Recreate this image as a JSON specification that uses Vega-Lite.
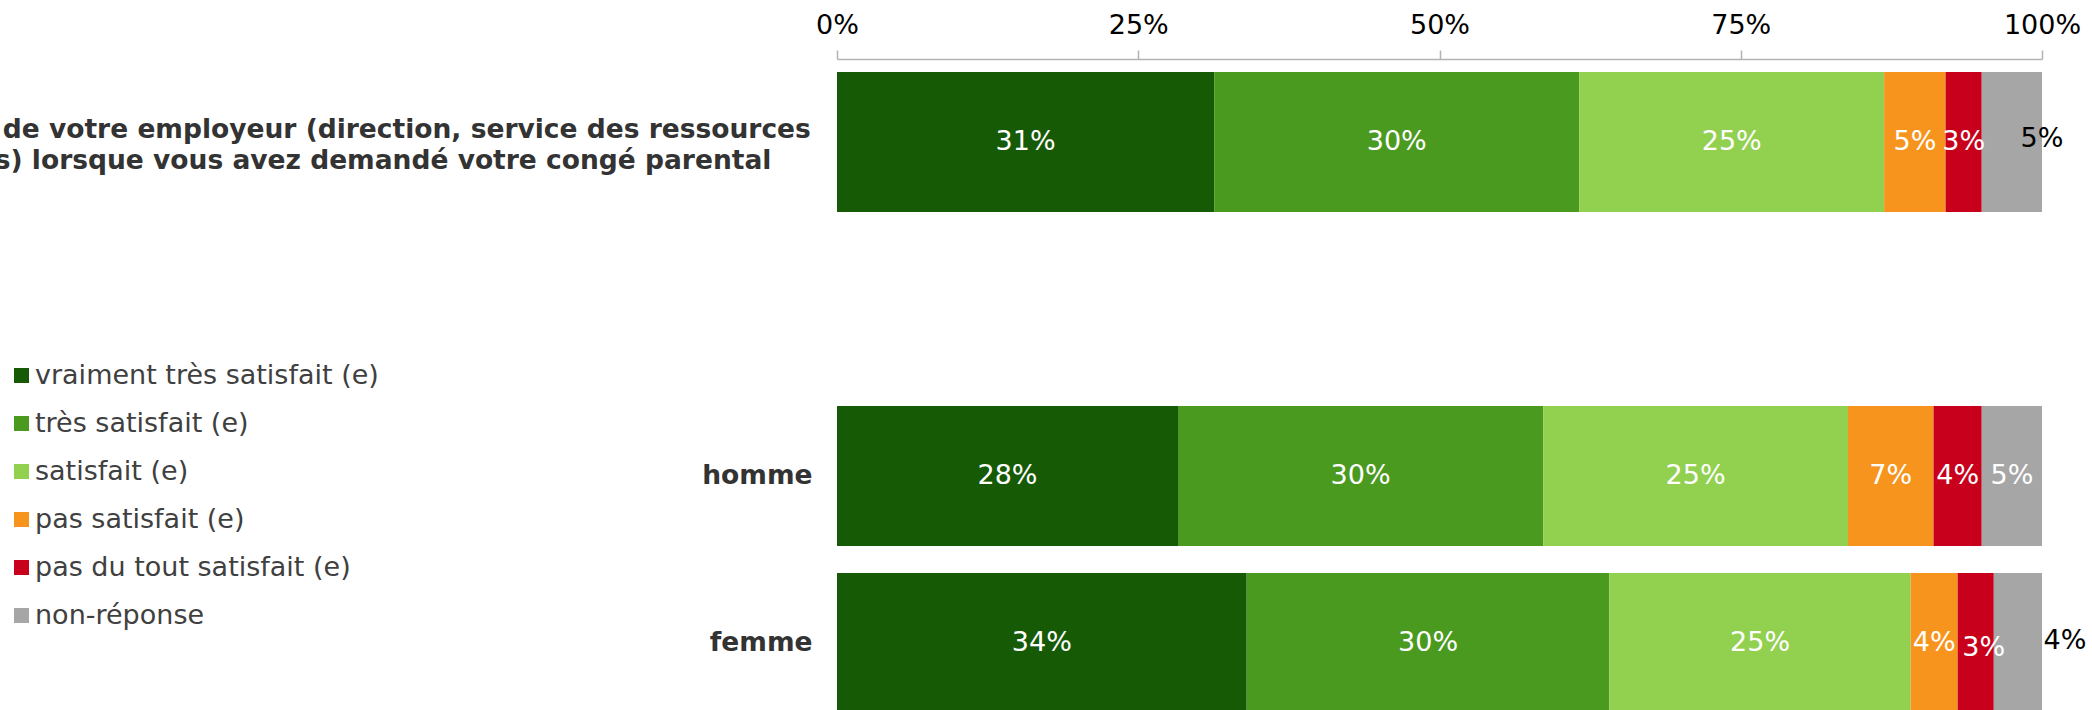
{
  "$schema": "https://vega.github.io/schema/vega-lite/v6.json",
  "width": 1205,
  "height": 651,
  "autosize": {"type": "none"},
  "padding": {"left": 837, "top": 59, "right": 50, "bottom": 0},
  "background": "white",
  "config": {"view": {"stroke": null}, "font": "DejaVu Sans"},
  "data": {
    "values": [
      {"groupe": "La réaction de votre employeur (direction, service des ressources humaines) lorsque vous avez demandé votre congé parental", "reponse": "vraiment très satisfait (e)", "ordre": 1, "pct": 31.3},
      {"groupe": "La réaction de votre employeur (direction, service des ressources humaines) lorsque vous avez demandé votre congé parental", "reponse": "très satisfait (e)", "ordre": 2, "pct": 30.3},
      {"groupe": "La réaction de votre employeur (direction, service des ressources humaines) lorsque vous avez demandé votre congé parental", "reponse": "satisfait (e)", "ordre": 3, "pct": 25.3},
      {"groupe": "La réaction de votre employeur (direction, service des ressources humaines) lorsque vous avez demandé votre congé parental", "reponse": "pas satisfait (e)", "ordre": 4, "pct": 5.1},
      {"groupe": "La réaction de votre employeur (direction, service des ressources humaines) lorsque vous avez demandé votre congé parental", "reponse": "pas du tout satisfait (e)", "ordre": 5, "pct": 3.0},
      {"groupe": "La réaction de votre employeur (direction, service des ressources humaines) lorsque vous avez demandé votre congé parental", "reponse": "non-réponse", "ordre": 6, "pct": 5.0},
      {"groupe": "homme", "reponse": "vraiment très satisfait (e)", "ordre": 1, "pct": 28.3},
      {"groupe": "homme", "reponse": "très satisfait (e)", "ordre": 2, "pct": 30.3},
      {"groupe": "homme", "reponse": "satisfait (e)", "ordre": 3, "pct": 25.3},
      {"groupe": "homme", "reponse": "pas satisfait (e)", "ordre": 4, "pct": 7.1},
      {"groupe": "homme", "reponse": "pas du tout satisfait (e)", "ordre": 5, "pct": 4.0},
      {"groupe": "homme", "reponse": "non-réponse", "ordre": 6, "pct": 5.0},
      {"groupe": "femme", "reponse": "vraiment très satisfait (e)", "ordre": 1, "pct": 34.0},
      {"groupe": "femme", "reponse": "très satisfait (e)", "ordre": 2, "pct": 30.1},
      {"groupe": "femme", "reponse": "satisfait (e)", "ordre": 3, "pct": 25.0},
      {"groupe": "femme", "reponse": "pas satisfait (e)", "ordre": 4, "pct": 3.9},
      {"groupe": "femme", "reponse": "pas du tout satisfait (e)", "ordre": 5, "pct": 3.0},
      {"groupe": "femme", "reponse": "non-réponse", "ordre": 6, "pct": 4.0}
    ]
  },
  "transform": [
    {"stack": "pct", "groupby": ["groupe"], "sort": [{"field": "ordre", "order": "ascending"}], "as": ["x0", "x1"]},
    {"calculate": "(datum.x0 + datum.x1) / 2", "as": "xmid"},
    {"calculate": "format(datum.pct, '.0f') + '%'", "as": "etiquette"}
  ],
  "encoding": {
    "y": {
      "field": "groupe",
      "type": "nominal",
      "title": null,
      "scale": {
        "domain": ["La réaction de votre employeur (direction, service des ressources humaines) lorsque vous avez demandé votre congé parental", " ", "homme", "femme"],
        "range": [0, 667],
        "paddingInner": 0.1617,
        "paddingOuter": 0.0778
      },
      "axis": {
        "ticks": false,
        "tickSize": 0,
        "domain": false,
        "labelFont": "DejaVu Sans",
        "labelFontSize": 26.5,
        "labelFontWeight": "bold",
        "labelColor": "#333333",
        "labelLimit": 5000,
        "labelLineHeight": 31,
        "labelBaseline": "middle",
        "labelExpr": "indexof(datum.value, ' humaines') > 0 ? [substring(datum.value, 0, indexof(datum.value, ' humaines')), substring(datum.value, indexof(datum.value, ' humaines') + 1, length(datum.value))] : datum.label",
        "labelAlign": {"condition": {"test": "indexof(datum.value, ' humaines') > 0", "value": "center"}, "value": "right"},
        "labelPadding": {"condition": {"test": "indexof(datum.value, ' humaines') > 0", "value": 519}, "value": 25},
        "labelOffset": {"condition": {"test": "indexof(datum.value, ' humaines') > 0", "value": -12}, "value": 0}
      }
    }
  },
  "layer": [
    {
      "mark": {"type": "bar"},
      "encoding": {
        "x": {
          "field": "x0",
          "type": "quantitative",
          "title": null,
          "scale": {"domain": [0, 100]},
          "axis": {
            "orient": "top",
            "values": [0, 25, 50, 75, 100],
            "labelExpr": "datum.value + '%'",
            "grid": false,
            "domainColor": "#b3b3b3",
            "domainWidth": 1.5,
            "tickColor": "#b3b3b3",
            "tickWidth": 1.5,
            "tickSize": 9,
            "labelFont": "DejaVu Sans",
            "labelFontSize": 27,
            "labelColor": "#000000",
            "labelBaseline": "alphabetic",
            "labelPadding": 17,
            "labelFlush": false,
            "labelOverlap": false
          }
        },
        "x2": {"field": "x1"},
        "color": {
          "field": "reponse",
          "type": "nominal",
          "title": null,
          "scale": {
            "domain": ["vraiment très satisfait (e)", "très satisfait (e)", "satisfait (e)", "pas satisfait (e)", "pas du tout satisfait (e)", "non-réponse"],
            "range": ["#165a06", "#4a9a1f", "#92d050", "#f7941d", "#c8001c", "#a6a6a6"]
          },
          "legend": {
            "orient": "none",
            "legendX": -829,
            "legendY": 303,
            "symbolType": "square",
            "symbolSize": 225,
            "symbolStrokeWidth": 0,
            "symbolOpacity": 1,
            "labelFont": "DejaVu Sans",
            "labelFontSize": 27,
            "labelColor": "#404040",
            "labelOffset": 0,
            "labelLimit": 0,
            "rowPadding": 20,
            "padding": 0
          }
        }
      }
    },
    {
      "transform": [{"filter": "!(datum.reponse == 'non-réponse' && datum.groupe != 'homme') && !(datum.groupe == 'femme' && datum.reponse == 'pas du tout satisfait (e)')"}],
      "mark": {"type": "text", "fontSize": 27, "font": "DejaVu Sans", "color": "white", "baseline": "middle"},
      "encoding": {
        "x": {"field": "xmid", "type": "quantitative"},
        "text": {"field": "etiquette", "type": "nominal"}
      }
    },
    {
      "transform": [{"filter": "datum.reponse == 'non-réponse' && datum.groupe != 'homme' && datum.groupe != 'femme'"}],
      "mark": {"type": "text", "fontSize": 27, "font": "DejaVu Sans", "color": "black", "baseline": "middle", "dx": 30, "dy": -3},
      "encoding": {
        "x": {"field": "xmid", "type": "quantitative"},
        "text": {"field": "etiquette", "type": "nominal"}
      }
    },
    {
      "transform": [{"filter": "datum.reponse == 'non-réponse' && datum.groupe == 'femme'"}],
      "mark": {"type": "text", "fontSize": 27, "font": "DejaVu Sans", "color": "black", "baseline": "middle", "dx": 47, "dy": -2},
      "encoding": {
        "x": {"field": "xmid", "type": "quantitative"},
        "text": {"field": "etiquette", "type": "nominal"}
      }
    },
    {
      "transform": [{"filter": "datum.reponse == 'pas du tout satisfait (e)' && datum.groupe == 'femme'"}],
      "mark": {"type": "text", "fontSize": 27, "font": "DejaVu Sans", "color": "white", "baseline": "middle", "dx": 8, "dy": 5},
      "encoding": {
        "x": {"field": "xmid", "type": "quantitative"},
        "text": {"field": "etiquette", "type": "nominal"}
      }
    }
  ]
}
